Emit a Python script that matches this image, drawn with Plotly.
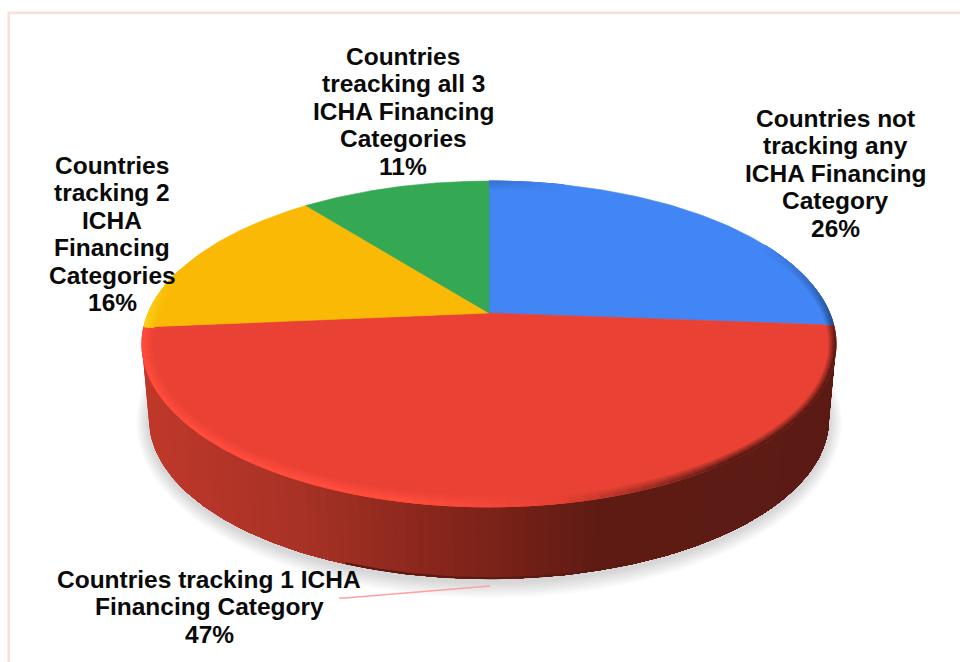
import numpy as np
import plotly.graph_objects as go

# Slices run clockwise from 12 o'clock
categories = [
    "Countries not tracking any ICHA Financing Category",
    "Countries tracking 1 ICHA Financing Category",
    "Countries tracking 2 ICHA Financing Categories",
    "Countries treacking all 3 ICHA Financing Categories",
]
shares = [26.2, 47.4, 15.8, 10.6]
label_lines = [
    ["Countries not", "tracking any", "ICHA Financing", "Category"],
    ["Countries tracking 1 ICHA", "Financing Category"],
    ["Countries", "tracking 2", "ICHA", "Financing", "Categories"],
    ["Countries", "treacking all 3", "ICHA Financing", "Categories"],
]
colors = ["#4285f4", "#e94235", "#f9b904", "#34a853"]

# Where each label block is centred (x) and where its first line sits (y)
LABEL_X = [835, 209, 112, 403]
LABEL_Y = [118, 579, 165, 56]
LINE_STEP = 27.5

# Pie geometry, in pixels of the 960x662 picture
CX, CY = 489, 313           # apex of the slices
RX0, RY0, K = 340.7, 157, 0.19   # perspective projection of the disc
EDGE_RX, EDGE_RY, EDGE_CY = 347, 163, 344   # the same rim as an ellipse
BASE_RX, BASE_RY, BASE_CY = 340, 160, 419   # bottom rim of the wall

# Rim bevel colours per slice: (lit side, shaded side)
BEVEL = {
    "#4285f4": (None, "#1f3f70"),
    "#e94235": ("#ff4c3d", "#5a1a14"),
    "#f9b904": ("#ffd21a", None),
    "#34a853": (None, None),
}


def hex_rgb(c):
    return np.array([int(c[i:i + 2], 16) for i in (1, 3, 5)], dtype=float)


def mix(a, b, w):
    w = min(max(w, 0), 1)
    r = hex_rgb(a) * (1 - w) + hex_rgb(b) * w
    return "rgb(%d,%d,%d)" % tuple(r)


def disc(angle):
    # angle in radians, clockwise from the top of the pie
    u, v = np.sin(angle), np.cos(angle)
    return CX + RX0 * u / (1 + K * v), CY - RY0 * v / (1 + K * v)


def polygon(fig, xs, ys, color, line_width=0.6):
    fig.add_trace(go.Scatter(
        x=xs, y=ys, mode="lines", fill="toself", fillcolor=color,
        line=dict(color=color, width=line_width), hoverinfo="skip", showlegend=False,
    ))


def wall_color(x):
    stops_x = [150, 300, 400, 490, 590, 960]
    stops = ["#c0392b", "#a83226", "#8f291e", "#7b2219", "#5e1c14", "#5a1a14"]
    i = min(np.searchsorted(stops_x, x, side="right"), len(stops) - 1)
    if i == 0:
        return stops[0]
    return mix(stops[i - 1], stops[i], (x - stops_x[i - 1]) / (stops_x[i] - stops_x[i - 1]))


fig = go.Figure()

# Soft drop shadow under the base
t = np.linspace(0, 2 * np.pi, 120)
for k in range(2, 18, 2):
    fig.add_trace(go.Scatter(
        x=CX + (BASE_RX + k * 0.8) * np.cos(t), y=BASE_CY + 3 + (BASE_RY + k) * np.sin(t),
        mode="lines", fill="toself", fillcolor="rgba(0,0,0,0.02)",
        line=dict(width=0), hoverinfo="skip", showlegend=False,
    ))

# Side wall: each band covers everything to its right, so no seams show
t = np.linspace(np.pi, 0, 181)
top_x, top_y = CX + EDGE_RX * np.cos(t), EDGE_CY + EDGE_RY * np.sin(t)
low_x, low_y = CX + BASE_RX * np.cos(t), BASE_CY + BASE_RY * np.sin(t)
for i in range(0, len(t) - 1, 2):
    xs = [*top_x[i:], *low_x[i:][::-1]]
    ys = [*top_y[i:], *low_y[i:][::-1]]
    polygon(fig, xs, ys, wall_color(low_x[i]), 0)

# Darker lip along the lowest stretch of the wall
mid = (low_x > 340) & (low_x < 640)
fig.add_trace(go.Scatter(
    x=low_x[mid], y=low_y[mid] - 0.8, mode="lines",
    line=dict(color="#5a1a14", width=2), hoverinfo="skip", showlegend=False,
))

# Top faces
edges = np.cumsum([0] + shares) / sum(shares) * 2 * np.pi
for start, end, color in zip(edges[:-1], edges[1:], colors):
    a = np.linspace(start, end, 90)
    x, y = disc(a)
    polygon(fig, [CX, *x, CX], [CY, *y, CY], color)

# Bevel along the rim: bright on the left, dark on the right
for start, end, color in zip(edges[:-1], edges[1:], colors):
    lit, shaded = BEVEL[color]
    steps = max(int((end - start) / (2 * np.pi) * 170), 2)
    a = np.linspace(start, end, steps + 1)
    for a0, a1 in zip(a[:-1], a[1:]):
        x0, y0 = disc(a0)
        x1, y1 = disc(a1)
        xm = ((x0 + x1) / 2 - CX) / EDGE_RX
        ym = ((y0 + y1) / 2 - EDGE_CY) / EDGE_RY
        bright = min((0.2 - xm) / 0.4, 1) * min((ym + 0.45) / 0.35, 1)
        dark = min((xm - 0.2) / 0.5, 1) * min((ym + 0.6) / 0.6, 1)
        if bright > 0 and lit:
            target, amount, width = lit, bright, 10
        elif dark > 0 and shaded:
            target, amount, width = shaded, dark, 7
        else:
            continue
        nx0, ny0 = (x0 - CX) / EDGE_RX, (y0 - EDGE_CY) / EDGE_RY
        nx1, ny1 = (x1 - CX) / EDGE_RX, (y1 - EDGE_CY) / EDGE_RY
        # wider, weaker layers first so the band fades into the face
        for layer in (1.0, 0.75, 0.5, 0.25):
            wx, wy = width * layer, (width + 1) * layer
            polygon(fig,
                    [x0, x1, x1 - wx * nx1, x0 - wx * nx0],
                    [y0, y1, y1 - wy * ny1, y0 - wy * ny0],
                    mix(color, target, amount * (1.25 - layer)))

# Leader line of the red slice
fig.add_trace(go.Scatter(
    x=[339, 345, 490], y=[598, 598, 586], mode="lines",
    line=dict(color="#ffa0a0", width=1.5), hoverinfo="skip", showlegend=False,
))

# Labels: one annotation per line to hold the tight line spacing
for lines, share, lx, ly in zip(label_lines, shares, LABEL_X, LABEL_Y):
    for i, text in enumerate(lines + [f"{round(share)}%"]):
        fig.add_annotation(
            x=lx, y=ly + i * LINE_STEP, text=f"<b>{text}</b>", showarrow=False,
            xanchor="center", yanchor="middle",
            font=dict(family="Liberation Sans", size=24.5, color="#0a0a0a"),
        )

# Pale pink frame, open past the right and bottom of the picture
fig.add_shape(type="rect", x0=8.7, y0=12.7, x1=990, y1=700,
              line=dict(color="#fddcdc", width=2.5), layer="below")

fig.update_xaxes(range=[0, 960], visible=False, fixedrange=True)
fig.update_yaxes(range=[662, 0], visible=False, fixedrange=True)
fig.update_layout(
    width=960, height=662, margin=dict(l=0, r=0, t=0, b=0),
    paper_bgcolor="white", plot_bgcolor="white", showlegend=False,
)

fig.write_html("out.html", config={"displayModeBar": False},
               post_script="document.body.style.margin='0';")
